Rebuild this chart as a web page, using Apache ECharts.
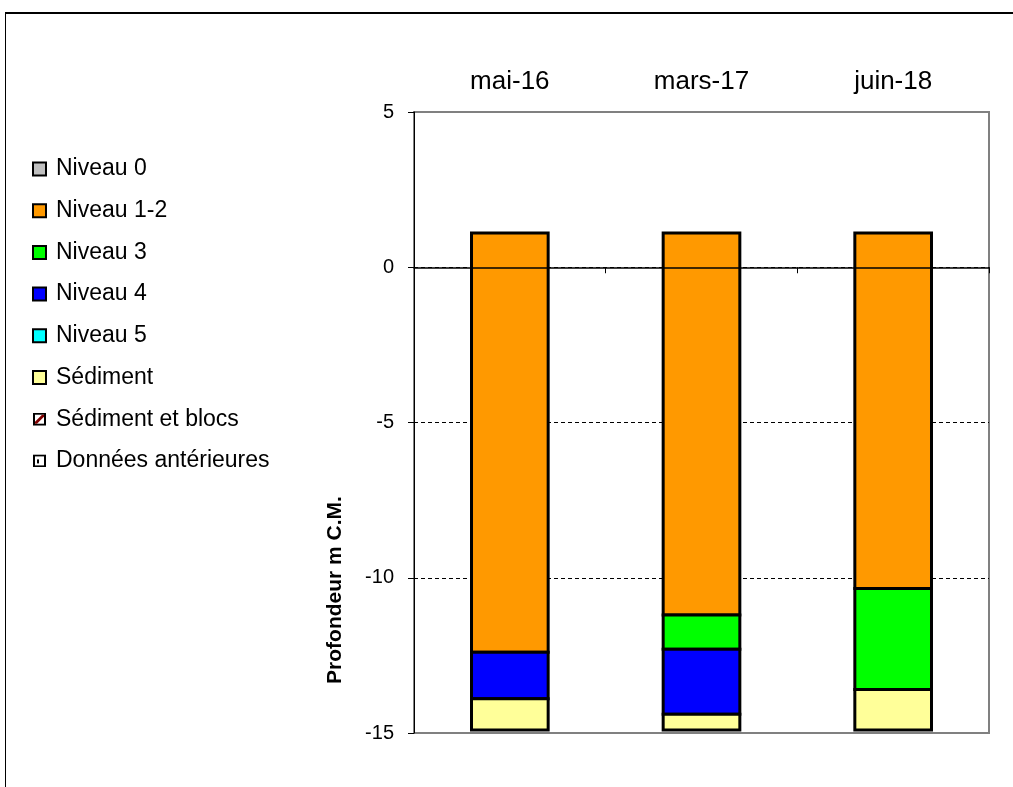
<!DOCTYPE html>
<html>
<head>
<meta charset="utf-8">
<script src="https://cdn.jsdelivr.net/npm/echarts@6/dist/echarts.min.js"></script>
<style>
  html, body { margin: 0; padding: 0; background: #fff; }
  #chart { width: 1013px; height: 787px; }
</style>
</head>
<body>
<div id="chart"></div>
<script>
// Survey dates
const categories = ['mai-16', 'mars-17', 'juin-18'];
// Depth (m C.M.) of the top of each column
const surface = [1.1, 1.1, 1.1];
// Depth of the lower limit of each layer (null = layer absent)
const baseNiveau0 = [null, null, null];
const baseNiveau12 = [-12.4, -11.2, -10.35];
const baseNiveau3 = [null, -12.3, -13.6];
const baseNiveau4 = [-13.9, -14.4, null];
const baseNiveau5 = [null, null, null];
const baseSediment = [-14.9, -14.9, -14.9];
const baseSedimentBlocs = [null, null, null];
const baseAnterieures = [null, null, null];
// Depth axis ticks
const yTicks = [5, 0, -5, -10, -15];

const FONT = 'Liberation Sans, Arial, sans-serif';

const hatchIcon = 'image://data:image/svg+xml;utf8,' + encodeURIComponent(
  '<svg xmlns="http://www.w3.org/2000/svg" width="13" height="13">' +
  '<rect x="1" y="1" width="11" height="11" fill="#fff" stroke="#000" stroke-width="2"/>' +
  '<polygon points="2,9 9,2 11,2 11,4 4,11 2,11" fill="#800000"/>' +
  '</svg>');
const priorIcon = 'image://data:image/svg+xml;utf8,' + encodeURIComponent(
  '<svg xmlns="http://www.w3.org/2000/svg" width="13" height="13">' +
  '<rect x="1" y="1" width="11" height="11" fill="#fff" stroke="#000" stroke-width="2"/>' +
  '<rect x="4" y="5" width="2" height="4" fill="#000"/>' +
  '</svg>');

const layers = [
  { name: 'Niveau 0', base: baseNiveau0, color: '#C0C0C0' },
  { name: 'Niveau 1-2', base: baseNiveau12, color: '#FF9900' },
  { name: 'Niveau 3', base: baseNiveau3, color: '#00FF00' },
  { name: 'Niveau 4', base: baseNiveau4, color: '#0000FF' },
  { name: 'Niveau 5', base: baseNiveau5, color: '#00FFFF' },
  { name: 'Sédiment', base: baseSediment, color: '#FFFF99' },
  { name: 'Sédiment et blocs', base: baseSedimentBlocs, color: '#800000', icon: hatchIcon },
  { name: 'Données antérieures', base: baseAnterieures, color: '#FFFFFF', icon: priorIcon }
];

// Stack layers downward from the surface of each column
const tops = surface.slice();
const seriesData = layers.map(layer => {
  const rows = [];
  layer.base.forEach((b, i) => {
    if (b !== null) {
      rows.push([i, tops[i], b]);
      tops[i] = b;
    }
  });
  return rows;
});

function renderSegment(color) {
  return function (params, api) {
    const x = api.value(0);
    const p1 = api.coord([x, api.value(1)]);
    const p2 = api.coord([x, api.value(2)]);
    const w = api.size([1, 0])[0] * 0.4;
    return {
      type: 'rect',
      shape: { x: p1[0] - w / 2, y: p1[1], width: w, height: p2[1] - p1[1] },
      style: { fill: color, stroke: '#000', lineWidth: 3 }
    };
  };
}

const chart = echarts.init(document.getElementById('chart'));
chart.setOption({
  animation: false,
  backgroundColor: '#fff',
  textStyle: { fontFamily: FONT },
  grid: {
    left: 414, top: 112, right: 24, bottom: 54,
    show: true, borderColor: '#808080', borderWidth: 2, backgroundColor: 'transparent'
  },
  legend: {
    orient: 'vertical',
    left: 27, top: 152,
    itemWidth: 13, itemHeight: 13,
    itemGap: 17.7,
    selectedMode: false,
    textStyle: { fontFamily: FONT, fontSize: 23, color: '#000', lineHeight: 24, padding: [0, 0, 0, 5] },
    data: layers.map(l => ({
      name: l.name,
      icon: l.icon || 'rect',
      itemStyle: { color: l.color, borderColor: '#000', borderWidth: 2 }
    }))
  },
  xAxis: [
    {
      type: 'category', data: categories, position: 'top',
      axisLine: { show: false, onZero: false }, axisTick: { show: false }, splitLine: { show: false },
      axisLabel: { fontFamily: FONT, fontSize: 26, color: '#000', margin: 17 }
    },
    {
      // depth-zero line with its category ticks, drawn above the columns
      type: 'category', data: categories, position: 'bottom', zlevel: 1,
      axisLine: { onZero: true, onZeroAxisIndex: 0, lineStyle: { color: '#000', width: 1.5 } },
      axisTick: { show: true, length: 6, lineStyle: { color: '#000', width: 1 } },
      axisLabel: { show: false }, splitLine: { show: false }
    }
  ],
  yAxis: {
    type: 'value', min: -15, max: 5, interval: 5,
    axisLine: { show: true, onZero: false, lineStyle: { color: '#000', width: 1 } },
    axisTick: { show: true, length: 6, lineStyle: { color: '#000' } },
    axisLabel: {
      fontFamily: FONT, fontSize: 20, color: '#000', margin: 20,
      formatter: v => (yTicks.indexOf(v) >= 0 ? String(v) : '')
    },
    splitLine: {
      show: true, showMinLine: false, showMaxLine: false,
      lineStyle: { color: '#000', width: 1, type: [4, 3] }
    }
  },
  graphic: [
    { type: 'line', shape: { x1: 5, y1: 13, x2: 1013, y2: 13 }, style: { stroke: '#000', lineWidth: 2 } },
    { type: 'line', shape: { x1: 5.5, y1: 13, x2: 5.5, y2: 787 }, style: { stroke: '#000', lineWidth: 1 } },
    {
      type: 'text', x: 335, y: 590, rotation: Math.PI / 2,
      style: {
        text: 'Profondeur m C.M.', fontFamily: FONT, fontSize: 21, fontWeight: 'bold',
        fill: '#000', align: 'center', verticalAlign: 'middle'
      }
    }
  ],
  series: layers.map((l, k) => ({
    name: l.name,
    type: 'custom',
    xAxisIndex: 0, yAxisIndex: 0,
    itemStyle: { color: l.color },
    encode: { x: 0, y: [1, 2] },
    renderItem: renderSegment(l.color),
    data: seriesData[k]
  }))
});
</script>
</body>
</html>
